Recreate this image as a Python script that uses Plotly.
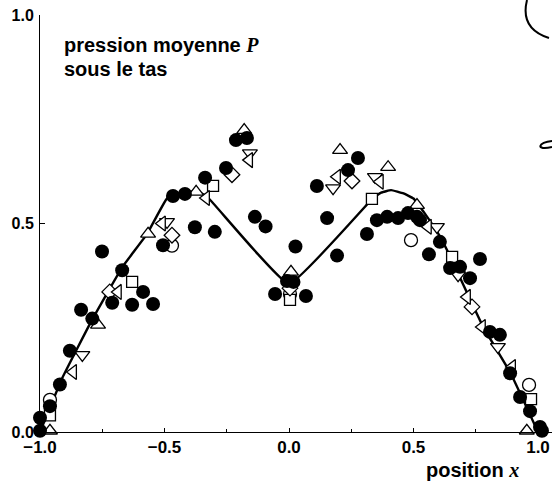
import plotly.graph_objects as go

# ---- data ----
curve_x = [-1.0, -0.91, -0.79, -0.67, -0.57, -0.49, -0.43, -0.37, -0.33, 0.0,
           0.33, 0.37, 0.41, 0.46, 0.5, 0.55, 0.6, 0.64, 0.78, 0.89, 1.0]
curve_y = [0.0, 0.13, 0.27, 0.395, 0.475, 0.56, 0.574, 0.577, 0.565, 0.355,
           0.556, 0.574, 0.58, 0.572, 0.56, 0.52, 0.475, 0.43, 0.252, 0.141, 0.0]

filled_x = [-1.0, -1.0, -0.96, -0.92, -0.88, -0.835, -0.79, -0.751, -0.71, -0.67,
            -0.63, -0.586, -0.546, -0.506, -0.466, -0.418, -0.378, -0.337, -0.298,
            -0.253, -0.213, -0.169, -0.137, -0.094, -0.008, 0.018, -0.056, 0.026,
            0.068, 0.112, 0.153, 0.193, 0.237, 0.277, 0.313, 0.353, 0.394, 0.438,
            0.478, 0.514, 0.526, 0.562, 0.606, 0.647, 0.687, 0.727, 0.767, 0.807,
            0.847, 0.888, 0.928, 0.968, 1.008, 1.016]
filled_y = [0.034, 0.003, 0.062, 0.114, 0.195, 0.293, 0.272, 0.433, 0.31, 0.388,
            0.305, 0.336, 0.307, 0.448, 0.566, 0.571, 0.491, 0.61, 0.48,
            0.633, 0.70, 0.705, 0.516, 0.493, 0.362, 0.36, 0.331, 0.445,
            0.326, 0.59, 0.513, 0.423, 0.628, 0.657, 0.475, 0.508, 0.516, 0.513,
            0.525, 0.516, 0.508, 0.426, 0.456, 0.393, 0.396, 0.369, 0.415, 0.24,
            0.233, 0.141, 0.084, 0.05, 0.012, 0.003]

open_circle_x = [-0.96, -0.47, 0.004, 0.49, 0.964]
open_circle_y = [0.077, 0.447, 0.331, 0.46, 0.113]

square_x = [-0.96, -0.63, -0.305, 0.004, 0.333, 0.655, 0.972]
square_y = [0.04, 0.36, 0.59, 0.317, 0.559, 0.42, 0.079]

diamond_x = [-0.72, -0.47, -0.229, 0.004, 0.253, 0.735]
diamond_y = [0.336, 0.472, 0.617, 0.345, 0.602, 0.30]

tri_up_x = [-0.96, -0.767, -0.566, -0.373, -0.18, 0.008, 0.205, 0.398, 0.514, 0.955]
tri_up_y = [0.003, 0.257, 0.475, 0.576, 0.724, 0.384, 0.676, 0.635, 0.544, 0.003]

tri_down_x = [-0.83, -0.49, -0.157, 0.177, 0.345, 0.594, 0.679, 0.839]
tri_down_y = [0.185, 0.504, 0.669, 0.585, 0.612, 0.492, 0.376, 0.204]

tri_left_x = [-0.867, -0.687, -0.51, -0.333, -0.16, 0.193, 0.365, 0.558, 0.715, 0.775, 0.896]
tri_left_y = [0.144, 0.336, 0.50, 0.561, 0.652, 0.612, 0.60, 0.492, 0.324, 0.252, 0.156]

x_tick_vals = [-1.0, -0.5, 0.0, 0.5, 1.0]
x_tick_text = ["\u22121.0", "\u22120.5", "0.0", "0.5", "1.0"]
y_tick_vals = [0.0, 0.5, 1.0]
y_tick_text = ["0.0", "0.5", "1.0"]

# ---- figure ----
W, H = 552, 490
ML, MR, MT, MB = 40, 0, 15, 58
plot_w = W - ML - MR
x0 = -1.0
x1 = x0 + plot_w / 249.0
SANS = "Liberation Sans, Arial, sans-serif"
SERIF = "Liberation Serif, Times New Roman, serif"

fig = go.Figure()

fig.add_trace(go.Scatter(x=curve_x, y=curve_y, mode="lines",
                         line=dict(color="black", width=2.4, shape="spline", smoothing=0.3),
                         cliponaxis=False, hoverinfo="skip"))

def open_trace(xs, ys, symbol, size):
    return go.Scatter(x=xs, y=ys, mode="markers", cliponaxis=False,
                      marker=dict(symbol=symbol, size=size, color="white",
                                  line=dict(color="black", width=1.3)))

fig.add_trace(open_trace(open_circle_x, open_circle_y, "circle", 13))
fig.add_trace(open_trace(square_x, square_y, "square", 11))
fig.add_trace(open_trace(diamond_x, diamond_y, "diamond", 12))
fig.add_trace(open_trace(tri_up_x, tri_up_y, "triangle-up", 13))
fig.add_trace(open_trace(tri_down_x, tri_down_y, "triangle-down", 13))
fig.add_trace(open_trace(tri_left_x, tri_left_y, "triangle-left", 13))

fig.add_trace(go.Scatter(x=filled_x, y=filled_y, mode="markers", cliponaxis=False,
                         marker=dict(symbol="circle", size=14, color="black",
                                     line=dict(width=0))))

def px2paper(px, py):
    return (px - ML) / plot_w, (H - MB - py) / (H - MT - MB)

# hand-drawn marks in the top right of the scan
p = [px2paper(*q) for q in [(527, 0), (522, 20), (530, 32), (549, 38)]]
path1 = "M {0[0]} {0[1]} C {1[0]} {1[1]}, {2[0]} {2[1]}, {3[0]} {3[1]}".format(*p)
q = [px2paper(*r) for r in [(552, 141), (538, 142), (535, 151), (552, 147)]]
path2 = "M {0[0]} {0[1]} C {1[0]} {1[1]}, {2[0]} {2[1]}, {3[0]} {3[1]}".format(*q)

fig.update_layout(
    width=W, height=H,
    margin=dict(l=ML, r=MR, t=MT, b=MB, autoexpand=False),
    paper_bgcolor="white", plot_bgcolor="white",
    showlegend=False,
    font=dict(family=SANS, color="black"),
    xaxis=dict(range=[x0, x1], showgrid=False, zeroline=False, automargin=False,
               showline=True, linecolor="black", linewidth=1,
               tickvals=x_tick_vals, ticktext=x_tick_text,
               ticks="inside", ticklen=4, tickcolor="black", tickwidth=1,
               minor=dict(tickvals=[-0.75, -0.25, 0.25, 0.75], ticks="inside",
                          ticklen=3, tickcolor="black"),
               tickfont=dict(size=17, family=SANS, weight="bold")),
    yaxis=dict(range=[0, 1], showgrid=False, zeroline=False, automargin=False,
               showline=True, linecolor="black", linewidth=1,
               tickvals=y_tick_vals, ticktext=y_tick_text,
               ticks="inside", ticklen=5, tickcolor="black", tickwidth=1,
               ticklabelstandoff=2,
               tickfont=dict(size=16, family=SANS, weight="bold")),
    shapes=[
        dict(type="path", xref="paper", yref="paper", path=path1,
             line=dict(color="black", width=2)),
        dict(type="path", xref="paper", yref="paper", path=path2,
             line=dict(color="black", width=2)),
    ],
    annotations=[
        dict(text="pression moyenne <i><span style='font-family:" + SERIF + "'>P</span></i>",
             xref="paper", yref="paper", x=px2paper(62, 0)[0], y=px2paper(0, 45)[1],
             xanchor="left", yanchor="middle", showarrow=False,
             font=dict(size=20, weight="bold")),
        dict(text="sous le tas",
             xref="paper", yref="paper", x=px2paper(62, 0)[0], y=px2paper(0, 69)[1],
             xanchor="left", yanchor="middle", showarrow=False,
             font=dict(size=20, weight="bold")),
        dict(text="position <i><span style='font-family:" + SERIF + "'>x</span></i>",
             xref="paper", yref="paper", x=px2paper(521, 0)[0], y=px2paper(0, 470)[1],
             xanchor="right", yanchor="middle", showarrow=False,
             font=dict(size=20, weight="bold")),
    ],
)

fig.write_html("out.html", config={"displayModeBar": False},
               post_script="document.body.style.margin='0';document.body.style.padding='0';")
